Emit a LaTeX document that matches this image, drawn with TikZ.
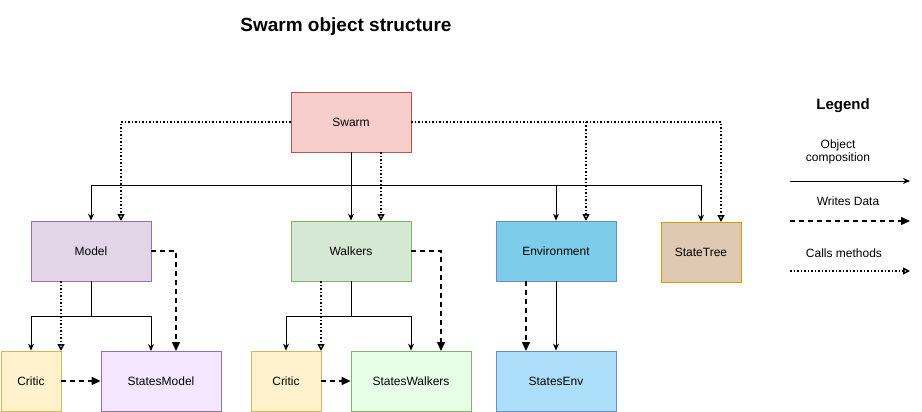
\documentclass[tikz,border=0pt]{standalone}
\usepackage{fontspec}
\setmainfont{Liberation Sans}
\usetikzlibrary{arrows.meta}
\begin{document}
\begin{tikzpicture}[x=1pt,y=-1pt,
 box/.style={draw, minimum height=60pt, inner sep=0pt, font=\fontsize{12}{14}\selectfont, line width=0.8pt},
 comp/.style={-{Stealth[length=7pt,width=6pt]}, line width=0.9pt},
 wr/.style={-{Triangle[length=9pt,width=8pt]}, dashed, dash pattern=on 5pt off 4pt, line width=1.5pt},
 call/.style={-{Triangle[open,length=7pt,width=7pt]}, dotted, line width=1.5pt},
 lbl/.style={font=\fontsize{12}{14}\selectfont, align=center}]
\useasboundingbox (0,0) rectangle (922,412);
\definecolor{swf}{HTML}{F8CECC}\definecolor{swd}{HTML}{B85450}
\definecolor{puf}{HTML}{E1D5E7}\definecolor{pud}{HTML}{9673A6}
\definecolor{grf}{HTML}{D5E8D4}\definecolor{grd}{HTML}{82B366}
\definecolor{blf}{HTML}{7DCCEA}\definecolor{bld}{HTML}{6C8EBF}
\definecolor{trf}{HTML}{E0C9B3}\definecolor{trd}{HTML}{D79B00}
\definecolor{yef}{HTML}{FFF2CC}\definecolor{yed}{HTML}{D6B656}
\definecolor{lpf}{HTML}{F5E6FF}\definecolor{lgf}{HTML}{E6FFE6}\definecolor{lbf}{HTML}{ACDEF9}
\node[font=\fontsize{19}{22}\selectfont\bfseries] (title) at (346,27) {Swarm object structure};
\node[box, fill=swf, draw=swd, minimum width=120pt] (swarm) at (351,122) {Swarm};
\node[box, fill=puf, draw=pud, minimum width=120pt] (model) at (91,251) {Model};
\node[box, fill=grf, draw=grd, minimum width=120pt] (walkers) at (351,251) {Walkers};
\node[box, fill=blf, draw=bld, minimum width=120pt] (env) at (556,251) {Environment};
\node[box, fill=trf, draw=trd, minimum width=80pt] (tree) at (701,252) {StateTree};
\node[box, fill=yef, draw=yed, minimum width=60pt] (critic1) at (31,381) {Critic};
\node[box, fill=lpf, draw=pud, minimum width=120pt] (smodel) at (161,381) {StatesModel};
\node[box, fill=yef, draw=yed, minimum width=70pt] (critic2) at (286,381) {Critic};
\node[box, fill=lgf, draw=grd, minimum width=120pt] (swalk) at (411,381) {StatesWalkers};
\node[box, fill=lbf, draw=bld, minimum width=120pt] (senv) at (556,381) {StatesEnv};
% composition from swarm
\draw[line width=0.9pt] (swarm.south) -- (351,185) coordinate (j0);
\draw[line width=0.9pt] (91,185) -- (701,185);
\draw[comp] (91,185) -- (model.north);
\draw[comp] (j0) -- (walkers.north);
\draw[comp] (556,185) -- (env.north);
\draw[comp] (701,185) -- (tree.north);
% calls from swarm
\draw[call] (swarm.west) -| (121,221);
\draw[call] (381,152) -- (381,221);
\draw[call] (swarm.east) -| (721,222);
\draw[call] (586,122) -- (586,221);
% model
\draw[line width=0.9pt] (model.south) -- (91,316);
\draw[line width=0.9pt] (31,316) -- (151,316);
\draw[comp] (31,316) -- (critic1.north);
\draw[comp] (151,316) -- (151,351);
\draw[call] (61,281) -- (61,351);
\draw[wr] (model.east) -| (176,351);
\draw[wr] (critic1.east) -- (smodel.west);
% walkers
\draw[line width=0.9pt] (walkers.south) -- (351,316);
\draw[line width=0.9pt] (286,316) -- (411,316);
\draw[comp] (286,316) -- (critic2.north);
\draw[comp] (411,316) -- (swalk.north);
\draw[call] (321,281) -- (321,351);
\draw[wr] (walkers.east) -| (441,351);
\draw[wr] (critic2.east) -- (swalk.west);
% env
\draw[wr] (526,281) -- (526,351);
\draw[comp] (env.south) -- (senv.north);
% legend
\node[font=\fontsize{15}{18}\selectfont\bfseries] (leg) at (843,106) {Legend};
\node[lbl] (l1) at (838,152) {Object\\[-1pt]composition};
\coordinate (a1) at (790,181); \coordinate (b1) at (910,181);
\draw[comp] (a1) -- (b1);
\node[lbl] (l2) at (848,201) {Writes Data};
\coordinate (a2) at (790,221); \coordinate (b2) at (910,221);
\draw[wr] (a2) -- (b2);
\node[lbl] (l3) at (844,253) {Calls methods};
\coordinate (a3) at (790,271); \coordinate (b3) at (910,271);
\draw[call] (a3) -- (b3);
\end{tikzpicture}
\end{document}
